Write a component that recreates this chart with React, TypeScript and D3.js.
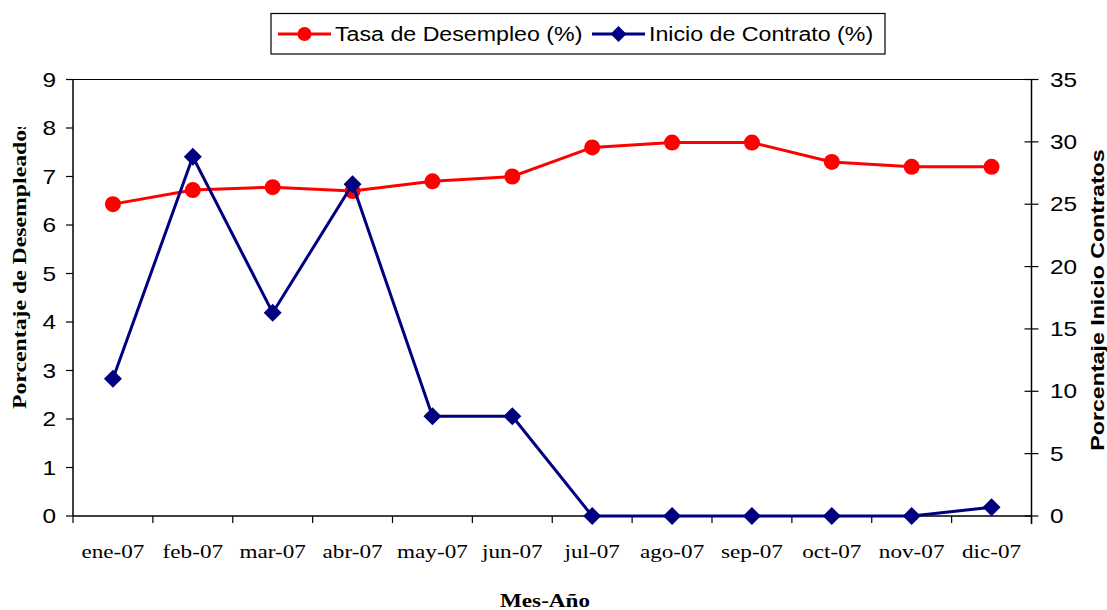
import React from "react";
import * as d3 from "d3";

const months = ["ene-07", "feb-07", "mar-07", "abr-07", "may-07", "jun-07", "jul-07", "ago-07", "sep-07", "oct-07", "nov-07", "dic-07"];
const desempleo = [6.43, 6.72, 6.78, 6.7, 6.9, 7.0, 7.6, 7.7, 7.7, 7.3, 7.2, 7.2];
const contratos = [11.0, 28.8, 16.3, 26.6, 8.0, 8.0, 0, 0, 0, 0, 0, 0.7];
const leftTicks = [0, 1, 2, 3, 4, 5, 6, 7, 8, 9];
const rightTicks = [0, 5, 10, 15, 20, 25, 30, 35];

const W = 1107;
const H = 610;
const X0 = 73;
const X1 = 1031.5;
const Y0 = 516;
const Y1 = 79.5;
const RED = "#FF0000";
const BLUE = "#000080";
const SANS = "'Liberation Sans', Arial, sans-serif";
const SERIF = "'Liberation Serif', 'Times New Roman', serif";

// text stretched along its own direction, the reference glyphs are wider
const Txt: React.FC<{
  x: number;
  y: number;
  rot?: number;
  sx?: number;
  anchor?: string;
  font: string;
  size: number;
  bold?: boolean;
  children: React.ReactNode;
}> = ({ x, y, rot = 0, sx = 1.22, anchor = "start", font, size, bold, children }) => (
  <text
    transform={`translate(${x},${y}) rotate(${rot}) scale(${sx},1)`}
    textAnchor={anchor}
    fontFamily={font}
    fontSize={size}
    fontWeight={bold ? "bold" : "normal"}
  >
    {children}
  </text>
);

const App: React.FC = () => {
  const x = d3.scaleBand<string>().domain(months).range([X0, X1]);
  const yL = d3.scaleLinear().domain([0, 9]).range([Y0, Y1]);
  const yR = d3.scaleLinear().domain([0, 35]).range([Y0, Y1]);
  const cx = (m: string) => (x(m) as number) + x.bandwidth() / 2;

  const redLine = d3.line<number>().x((_, i) => cx(months[i])).y((d) => yL(d));
  const blueLine = d3.line<number>().x((_, i) => cx(months[i])).y((d) => yR(d));
  const diamond = (r: number) => `M0,${-r}L${r},0L0,${r}L${-r},0Z`;

  const bounds = [...months.map((m) => x(m) as number), X1];

  return (
    <svg width={W} height={H} style={{ position: "absolute", left: 0, top: 0, background: "#fff" }}>
      <defs>
        <clipPath id="ltitle">
          <rect x={0} y={127} width={60} height={400} />
        </clipPath>
      </defs>

      {/* frame */}
      <line x1={X0} x2={X1} y1={Y1} y2={Y1} stroke="#000" strokeWidth={1.2} />
      <line x1={X0} x2={X0} y1={Y1} y2={Y0} stroke="#000" strokeWidth={1.5} />
      <line x1={X1} x2={X1} y1={Y1} y2={Y0 + 8} stroke="#000" strokeWidth={1.5} />
      <line x1={X0} x2={X1} y1={Y0} y2={Y0} stroke="#000" strokeWidth={1.5} />

      {/* left axis */}
      {leftTicks.map((t) => (
        <g key={"l" + t}>
          <line x1={X0 - 7} x2={X0} y1={yL(t)} y2={yL(t)} stroke="#000" strokeWidth={1.2} />
          <Txt x={56} y={yL(t) + 7} anchor="end" font={SANS} size={20}>{t}</Txt>
        </g>
      ))}

      {/* right axis */}
      {rightTicks.map((t) => (
        <g key={"r" + t}>
          <line x1={X1 - 7} x2={X1 + 7} y1={yR(t)} y2={yR(t)} stroke="#000" strokeWidth={1.2} />
          <Txt x={1050} y={yR(t) + 7} font={SANS} size={20}>{t}</Txt>
        </g>
      ))}

      {/* x axis */}
      {bounds.map((b, i) => (
        <line key={"b" + i} x1={b} x2={b} y1={Y0} y2={Y0 + 7} stroke="#000" strokeWidth={1.2} />
      ))}
      {months.map((m) => (
        <Txt key={m} x={cx(m)} y={558} anchor="middle" font={SERIF} size={19}>{m}</Txt>
      ))}

      {/* titles */}
      <g clipPath="url(#ltitle)">
        <Txt x={26} y={409} rot={-90} sx={1.25} font={SERIF} size={19} bold>
          Porcentaje de Desempleados
        </Txt>
      </g>
      <Txt x={1104} y={300} rot={-90} anchor="middle" font={SANS} size={19} bold>
        Porcentaje Inicio Contratos
      </Txt>
      <Txt x={545} y={607} anchor="middle" font={SERIF} size={19} bold>Mes-Año</Txt>

      {/* series */}
      <path d={redLine(desempleo) || ""} fill="none" stroke={RED} strokeWidth={3} />
      {desempleo.map((v, i) => (
        <circle key={"c" + i} cx={cx(months[i])} cy={yL(v)} r={8} fill={RED} />
      ))}
      <path d={blueLine(contratos) || ""} fill="none" stroke={BLUE} strokeWidth={3} />
      {contratos.map((v, i) => (
        <path key={"d" + i} d={diamond(9)} transform={`translate(${cx(months[i])},${yR(v)})`} fill={BLUE} />
      ))}

      {/* legend */}
      <rect x={271} y={13.5} width={614} height={40.5} fill="#fff" stroke="#000" strokeWidth={1.2} />
      <line x1={278} x2={331} y1={34} y2={34} stroke={RED} strokeWidth={3} />
      <circle cx={304.5} cy={34} r={7} fill={RED} />
      <Txt x={335} y={41} sx={1.16} font={SANS} size={20}>Tasa de Desempleo (%)</Txt>
      <line x1={592} x2={645} y1={34} y2={34} stroke={BLUE} strokeWidth={3} />
      <path d={diamond(8)} transform="translate(618.5,34)" fill={BLUE} />
      <Txt x={649} y={41} sx={1.16} font={SANS} size={20}>Inicio de Contrato (%)</Txt>
    </svg>
  );
};

export default App;
